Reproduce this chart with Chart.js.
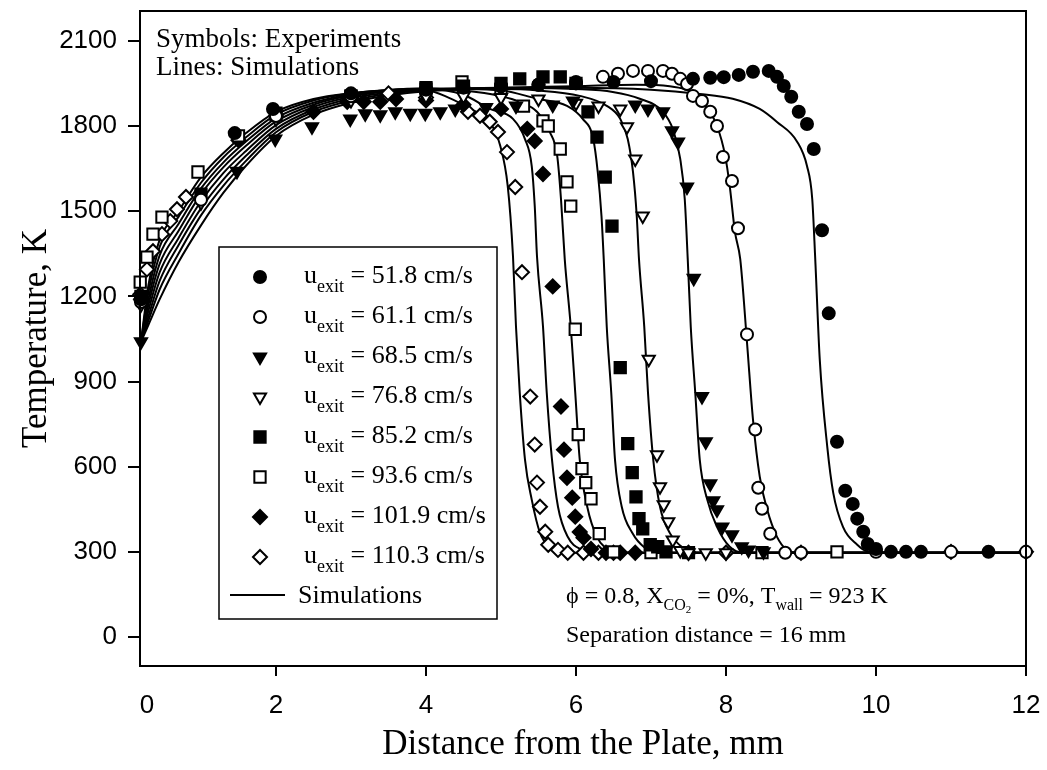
<!DOCTYPE html>
<html>
<head>
<meta charset="utf-8">
<title>Temperature profiles</title>
<script src="https://cdn.jsdelivr.net/npm/chart.js@4.4.0/dist/chart.umd.min.js"></script>
<style>
  html, body { margin: 0; padding: 0; background: #fff; }
  #wrap { width: 1047px; height: 770px; }
</style>
</head>
<body>
<div id="wrap"><canvas id="tempChart" width="1047" height="770"></canvas></div>
<script>
// axis ticks
const X_MIN = 0.187;
const X_ZERO_LABEL_AT = 0.28;   // the "0" label sits at the left frame, a bit inside
const X_TICKS = [0, 2, 4, 6, 8, 10, 12];
const X_TICK_LABELS = ['0', '2', '4', '6', '8', '10', '12'];
const Y_TICKS = [0, 300, 600, 900, 1200, 1500, 1800, 2100];

// exit velocities (cm/s), one per series
const velocities = ['51.8', '61.1', '68.5', '76.8', '85.2', '93.6', '101.9', '110.3'];

// experiments [x mm, T K]
const exp518 = [[0.2,1190],[1.45,1775],[1.96,1860],[3.0,1915],[4.0,1930],[4.5,1935],[5.0,1940],[5.5,1945],[6.0,1950],[6.5,1955],[7.0,1958],[7.56,1966],[7.79,1970],[7.97,1972],[8.17,1980],[8.36,1991],[8.57,1994],[8.68,1973],[8.77,1941],[8.87,1903],[8.97,1850],[9.08,1807],[9.17,1719],[9.28,1433],[9.37,1140],[9.48,688],[9.59,515],[9.69,469],[9.75,417],[9.83,371],[9.89,328],[10.0,310],[10.2,300],[10.4,300],[10.6,300],[11.5,300]];
const exp611 = [[0.2,1180],[1.0,1540],[2.0,1835],[3.0,1905],[4.0,1928],[5.0,1940],[5.5,1945],[6.0,1955],[6.36,1973],[6.56,1984],[6.76,1994],[6.96,1994],[7.16,1994],[7.28,1984],[7.39,1966],[7.48,1948],[7.56,1906],[7.68,1888],[7.79,1850],[7.88,1800],[7.96,1691],[8.08,1606],[8.16,1440],[8.28,1066],[8.39,731],[8.43,526],[8.48,452],[8.59,364],[8.79,297],[9.0,297],[10.0,300],[11.0,300],[12.0,300]];
const exp685 = [[0.2,1040],[1.48,1641],[1.99,1754],[2.48,1797],[2.99,1825],[3.19,1843],[3.39,1840],[3.59,1850],[3.79,1845],[3.99,1845],[4.19,1850],[4.39,1860],[4.8,1865],[5.2,1870],[5.69,1874],[5.96,1888],[6.79,1874],[6.96,1860],[7.16,1850],[7.28,1783],[7.36,1744],[7.48,1585],[7.57,1264],[7.68,847],[7.73,688],[7.79,540],[7.83,480],[7.88,448],[7.95,388],[8.08,360],[8.21,318],[8.3,307],[8.5,300]];
const exp768 = [[0.2,1170],[1.0,1530],[2.0,1825],[3.0,1890],[4.0,1905],[4.5,1905],[5.0,1900],[5.5,1895],[6.0,1880],[6.3,1870],[6.59,1860],[6.68,1797],[6.79,1684],[6.89,1483],[6.97,978],[7.08,642],[7.12,529],[7.17,466],[7.23,406],[7.29,342],[7.39,305],[7.5,297],[7.73,297],[8.0,297]];
const exp852 = [[0.2,1200],[1.0,1560],[2.0,1840],[3.0,1905],[4.0,1930],[4.5,1940],[5.0,1950],[5.25,1966],[5.56,1973],[5.79,1973],[6.0,1950],[6.16,1850],[6.28,1761],[6.39,1620],[6.48,1447],[6.59,949],[6.69,681],[6.75,579],[6.8,494],[6.84,417],[6.89,381],[6.99,325],[7.09,318],[7.2,300],[7.5,297]];
const exp936 = [[0.19,1250],[0.28,1338],[0.36,1419],[0.48,1479],[0.96,1638],[1.5,1765],[2.0,1845],[3.0,1905],[4.0,1935],[4.48,1955],[5.0,1930],[5.3,1870],[5.56,1818],[5.63,1800],[5.79,1719],[5.88,1603],[5.93,1518],[5.99,1084],[6.03,713],[6.08,593],[6.13,544],[6.2,487],[6.31,364],[6.5,300],[7.0,297],[8.48,297],[9.48,300]];
const exp1019 = [[0.2,1190],[1.5,1750],[2.5,1850],[2.95,1885],[3.17,1885],[3.39,1885],[3.6,1895],[4.0,1890],[4.5,1875],[5.0,1860],[5.35,1790],[5.45,1747],[5.56,1631],[5.69,1235],[5.8,812],[5.84,660],[5.88,561],[5.95,491],[5.99,424],[6.05,370],[6.1,350],[6.2,310],[6.4,297],[6.59,297],[6.79,297]];
const exp1103 = [[0.19,1207],[0.28,1295],[0.36,1359],[0.48,1419],[0.59,1465],[0.68,1507],[0.8,1550],[2.0,1835],[3.0,1900],[3.5,1915],[4.0,1900],[4.56,1850],[4.72,1836],[4.85,1815],[4.96,1779],[5.08,1708],[5.19,1585],[5.28,1285],[5.39,847],[5.45,678],[5.48,544],[5.52,459],[5.59,371],[5.63,325],[5.76,307],[5.89,297],[6.1,297],[6.3,297],[6.5,297],[7.5,297],[8.0,297],[9.0,297],[11.0,300],[12.0,300]];

// simulations [x mm, T K]
const sim518 = [[0.2,1040],[0.3,1100],[0.45,1190],[0.7,1320],[1.0,1450],[1.3,1565],[1.6,1660],[2.0,1765],[2.5,1840],[3.0,1882],[3.5,1907],[4.0,1922],[5.0,1932],[6.0,1935],[7.0,1928],[7.65,1913],[8.09,1896],[8.45,1860],[8.68,1814],[8.95,1744],[9.08,1659],[9.15,1543],[9.19,1331],[9.25,978],[9.35,671],[9.43,508],[9.56,388],[9.75,325],[9.88,302],[10.2,297],[12,297]];
const sim611 = [[0.2,1040],[0.3,1115],[0.45,1225],[0.7,1350],[1.0,1485],[1.3,1590],[1.6,1677],[2.0,1778],[2.5,1850],[3.0,1890],[3.5,1913],[4.0,1926],[5.0,1935],[6.0,1940],[6.8,1945],[7.25,1940],[7.65,1896],[7.88,1800],[7.99,1694],[8.05,1588],[8.12,1426],[8.19,1331],[8.28,1038],[8.36,766],[8.45,565],[8.55,448],[8.68,353],[8.81,307],[8.95,297],[12,297]];
const sim685 = [[0.2,1040],[0.3,1130],[0.45,1255],[0.7,1380],[1.0,1510],[1.3,1612],[1.6,1695],[2.0,1790],[2.5,1858],[3.0,1897],[3.5,1918],[4.0,1928],[5.0,1935],[6.0,1930],[6.49,1920],[6.85,1896],[7.16,1850],[7.29,1790],[7.39,1684],[7.45,1543],[7.49,1331],[7.53,1094],[7.59,861],[7.65,625],[7.75,484],[7.88,388],[8.05,318],[8.23,297],[12,297]];
const sim768 = [[0.2,1040],[0.3,1150],[0.45,1285],[0.7,1405],[1.0,1535],[1.3,1635],[1.6,1712],[2.0,1803],[2.5,1867],[3.0,1903],[3.5,1922],[4.0,1930],[5.0,1930],[5.5,1925],[6.05,1906],[6.41,1871],[6.59,1825],[6.69,1754],[6.76,1638],[6.81,1483],[6.84,1331],[6.91,1094],[6.96,861],[7.03,625],[7.12,459],[7.25,367],[7.43,314],[7.61,297],[12,297]];
const sim852 = [[0.2,1040],[0.3,1170],[0.45,1315],[0.7,1430],[1.0,1560],[1.3,1655],[1.6,1730],[2.0,1816],[2.5,1875],[3.0,1908],[3.5,1925],[4.0,1932],[5.0,1925],[5.48,1896],[5.88,1871],[6.09,1825],[6.23,1754],[6.29,1638],[6.34,1483],[6.37,1331],[6.41,1094],[6.47,861],[6.52,625],[6.61,459],[6.75,367],[6.92,314],[7.12,297],[12,297]];
const sim936 = [[0.2,1040],[0.3,1190],[0.45,1345],[0.7,1455],[1.0,1580],[1.3,1672],[1.6,1745],[2.0,1828],[2.5,1882],[3.0,1912],[3.5,1927],[4.0,1932],[4.5,1925],[5.0,1905],[5.25,1885],[5.48,1850],[5.65,1779],[5.75,1694],[5.8,1543],[5.85,1331],[5.93,1094],[5.99,861],[6.05,625],[6.15,459],[6.28,353],[6.45,307],[6.68,297],[12,297]];
const sim1019 = [[0.2,1040],[0.3,1215],[0.45,1375],[0.7,1480],[1.0,1600],[1.3,1690],[1.6,1760],[2.0,1840],[2.5,1890],[3.0,1915],[3.5,1927],[4.0,1930],[4.5,1910],[4.85,1860],[5.16,1825],[5.32,1754],[5.41,1659],[5.45,1518],[5.48,1341],[5.56,1094],[5.61,861],[5.68,625],[5.76,459],[5.89,353],[6.08,307],[6.28,297],[12,297]];
const sim1103 = [[0.2,1040],[0.3,1240],[0.45,1400],[0.7,1500],[1.0,1620],[1.3,1705],[1.6,1775],[2.0,1850],[2.5,1895],[3.0,1915],[3.5,1925],[4.0,1925],[4.3,1900],[4.59,1860],[4.85,1814],[4.99,1730],[5.09,1588],[5.16,1341],[5.2,1094],[5.25,861],[5.32,625],[5.41,484],[5.52,367],[5.65,318],[5.83,297],[12,297]];

const experiments = [exp518, exp611, exp685, exp768, exp852, exp936, exp1019, exp1103];
const simulations = [sim518, sim611, sim685, sim768, sim852, sim936, sim1019, sim1103];

// marker look for each series, same order as velocities
const markers = [
    { style: 'circle', radius: 6, rotation: 0, filled: true },
    { style: 'circle', radius: 6, rotation: 0, filled: false },
    { style: 'triangle', radius: 7, rotation: 180, filled: true },
    { style: 'triangle', radius: 7, rotation: 180, filled: false },
    { style: 'rect', radius: 8, rotation: 0, filled: true },
    { style: 'rect', radius: 8, rotation: 0, filled: false },
    { style: 'rectRot', radius: 7, rotation: 0, filled: true },
    { style: 'rectRot', radius: 7, rotation: 0, filled: false }
];

const SERIF = '"Liberation Serif", "Times New Roman", serif';
const SANS = '"Liberation Sans", Arial, sans-serif';

const toXY = arr => arr.map(p => ({ x: p[0], y: p[1] }));

const simSets = simulations.map((s, i) => ({
    label: 'Simulation ' + velocities[i],
    type: 'line',
    data: toXY(s),
    borderColor: '#000',
    borderWidth: 2,
    pointRadius: 0,
    fill: false,
    cubicInterpolationMode: 'monotone',
    order: 2
}));

const expSets = experiments.map((s, i) => ({
    label: 'u_exit = ' + velocities[i] + ' cm/s',
    type: 'scatter',
    data: toXY(s),
    pointStyle: markers[i].style,
    pointRadius: markers[i].radius,
    pointRotation: markers[i].rotation,
    pointBackgroundColor: markers[i].filled ? '#000' : '#fff',
    pointBorderColor: '#000',
    pointBorderWidth: 2,
    clip: false,
    order: 1
}));

// write text with sub/superscript pieces: [text, size, dy]
function drawRich(ctx, parts, x, y) {
    parts.forEach(([t, size, dy]) => {
        ctx.font = size + 'px ' + SERIF;
        ctx.fillText(t, x, y + dy);
        x += ctx.measureText(t).width;
    });
}

function drawMarker(ctx, m, x, y) {
    ctx.fillStyle = m.filled ? '#000' : '#fff';
    ctx.strokeStyle = '#000';
    ctx.lineWidth = 2;
    Chart.helpers.drawPoint(ctx, {
        pointStyle: m.style, radius: m.radius, rotation: m.rotation, borderWidth: 2
    }, x, y);
}

const decorPlugin = {
    id: 'decor',
    afterDatasetsDraw(chart) {
        const { ctx, chartArea: a } = chart;
        ctx.save();

        // plot frame
        ctx.strokeStyle = '#000';
        ctx.lineWidth = 2;
        ctx.strokeRect(a.left, a.top, a.right - a.left, a.bottom - a.top);

        ctx.fillStyle = '#000';
        ctx.textBaseline = 'alphabetic';
        ctx.textAlign = 'left';

        // top-left note
        ctx.font = '27px ' + SERIF;
        ctx.fillText('Symbols: Experiments', 156, 47);
        ctx.fillText('Lines: Simulations', 156, 75);

        // conditions note
        drawRich(ctx, [['\u03D5 = 0.8, X', 24, 0], ['CO', 16, 7], ['2', 11, 10], [' = 0%, T', 24, 0], ['wall', 16, 7], [' = 923 K', 24, 0]], 566, 603);
        drawRich(ctx, [['Separation distance = 16 mm', 24, 0]], 566, 642);

        // legend box
        ctx.fillStyle = '#fff';
        ctx.fillRect(219, 247, 278, 372);
        ctx.strokeStyle = '#000';
        ctx.lineWidth = 1.5;
        ctx.strokeRect(219, 247, 278, 372);

        velocities.forEach((v, i) => {
            const cy = 277 + 40 * i;
            drawMarker(ctx, markers[i], 260, cy);
            ctx.fillStyle = '#000';
            drawRich(ctx, [['u', 26, 0], ['exit', 18, 9], [' = ' + v + ' cm/s', 26, 0]], 304, cy + 6);
        });

        // simulation line sample
        ctx.strokeStyle = '#000';
        ctx.lineWidth = 2;
        ctx.beginPath();
        ctx.moveTo(230, 595);
        ctx.lineTo(285, 595);
        ctx.stroke();
        ctx.fillStyle = '#000';
        drawRich(ctx, [['Simulations', 26, 0]], 298, 603);

        ctx.restore();
    }
};

const canvas = document.getElementById('tempChart');
const chart = new Chart(canvas.getContext('2d'), {
    type: 'scatter',
    data: { datasets: [...simSets, ...expSets] },
    options: {
        responsive: false,
        animation: false,
        events: [],
        layout: { padding: { top: 11, right: 21, left: 0, bottom: 0 } },
        plugins: {
            legend: { display: false },
            tooltip: { enabled: false }
        },
        scales: {
            x: {
                type: 'linear',
                min: X_MIN,
                max: 12,
                afterBuildTicks: s => { s.ticks = X_TICKS.map(v => ({ value: v === 0 ? X_ZERO_LABEL_AT : v })); },
                afterFit: s => {
                    s.height = 104;
                    s.paddingLeft = 0;
                    s.paddingRight = 0;
                },
                ticks: {
                    callback: (v, i) => X_TICK_LABELS[i],
                    font: { family: SANS, size: 26 },
                    color: '#000',
                    padding: 14,
                    maxRotation: 0,
                    autoSkip: false
                },
                grid: {
                    drawOnChartArea: false,
                    tickLength: 10,
                    lineWidth: 2,
                    color: c => c.index === 0 ? 'rgba(0,0,0,0)' : '#000'
                },
                border: { display: false },
                title: {
                    display: true,
                    text: 'Distance from the Plate, mm',
                    font: { family: SERIF, size: 35 },
                    color: '#000',
                    padding: { top: 0, bottom: 4 }
                }
            },
            y: {
                type: 'linear',
                min: -102,
                max: 2205,
                afterBuildTicks: s => { s.ticks = Y_TICKS.map(v => ({ value: v })); },
                afterFit: s => {
                    s.width = 140;
                    s.paddingTop = 0;
                    s.paddingBottom = 0;
                },
                ticks: {
                    callback: v => String(v),
                    font: { family: SANS, size: 26 },
                    color: '#000',
                    padding: 11
                },
                grid: {
                    drawOnChartArea: false,
                    tickLength: 12,
                    lineWidth: 2,
                    color: '#000'
                },
                border: { display: false },
                title: {
                    display: true,
                    text: 'Temperature, K',
                    font: { family: SERIF, size: 35 },
                    color: '#000',
                    padding: { top: 16, bottom: 0 }
                }
            }
        }
    },
    plugins: [decorPlugin]
});
</script>
</body>
</html>
